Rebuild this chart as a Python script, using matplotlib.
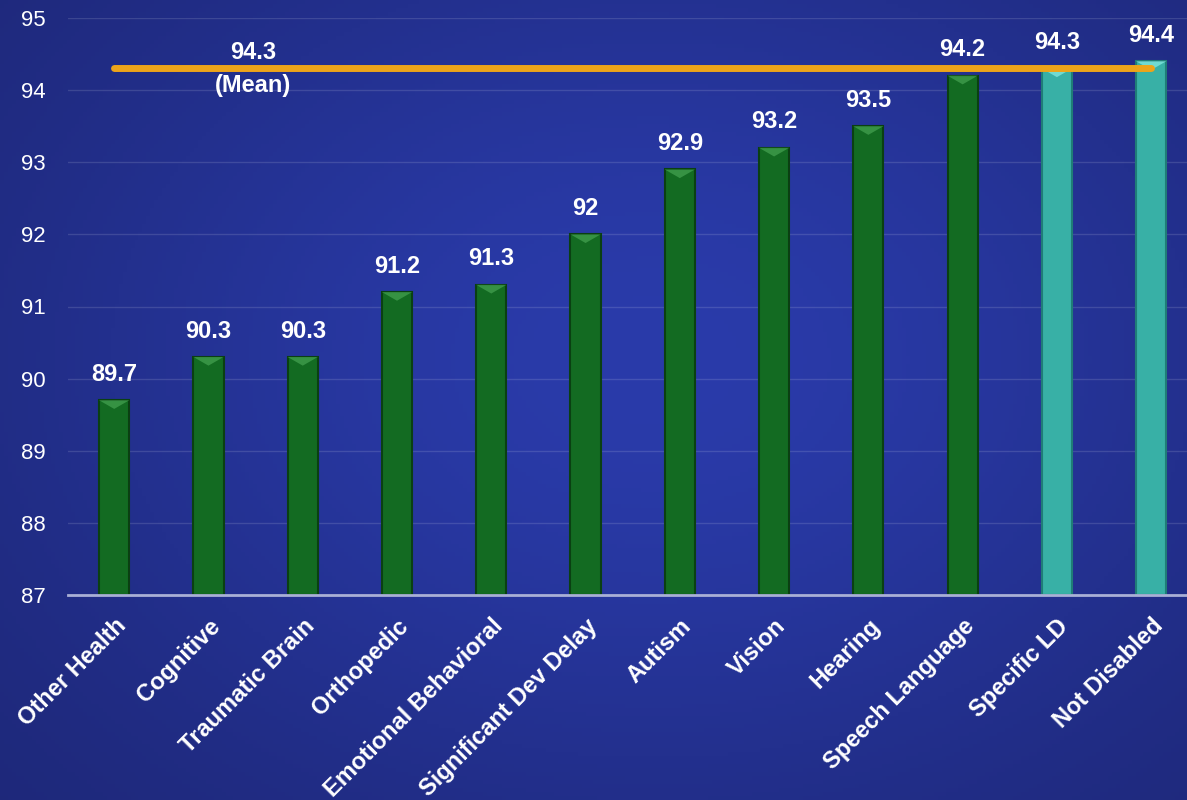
import numpy as np
import matplotlib.pyplot as plt
from matplotlib.patches import Polygon

categories = ['Other Health', 'Cognitive', 'Traumatic Brain', 'Orthopedic',
              'Emotional Behavioral', 'Significant Dev Delay', 'Autism', 'Vision',
              'Hearing', 'Speech Language', 'Specific LD', 'Not Disabled']
scores = [89.7, 90.3, 90.3, 91.2, 91.3, 92.0, 92.9, 93.2, 93.5, 94.2, 94.3, 94.4]
score_labels = ['89.7', '90.3', '90.3', '91.2', '91.3', '92', '92.9', '93.2',
                '93.5', '94.2', '94.3', '94.4']
highlight = ['Specific LD', 'Not Disabled']
mean_score = 94.3
y_ticks = [87, 88, 89, 90, 91, 92, 93, 94, 95]

plt.rcParams['font.family'] = ['Liberation Sans', 'DejaVu Sans']

fig = plt.figure(figsize=(11.87, 8), dpi=100)

# soft blue gradient behind everything
bg = fig.add_axes([0, 0, 1, 1], zorder=-10)
gx, gy = np.meshgrid(np.linspace(0, 1, 300), np.linspace(0, 1, 200))
glow = np.exp(-(((gx - 0.55) / 0.55) ** 2 + ((gy - 0.55) / 0.6) ** 2))
c_dark = np.array([0x1c, 0x25, 0x72]) / 255
c_light = np.array([0x2a, 0x3b, 0xaa]) / 255
img = c_dark + (c_light - c_dark) * glow[..., None]
bg.imshow(img, aspect='auto', extent=[0, 1, 0, 1], origin='lower')
bg.axis('off')

ax = fig.add_axes([68 / 1187, 205 / 800, 1 - 68 / 1187, 577 / 800])
ax.set_facecolor('none')

x = np.arange(len(categories))
width = 0.32
bottom = 87
for i, (cat, val) in enumerate(zip(categories, scores)):
    if cat in highlight:
        body, edge, cap = '#38b0a6', '#1f7d77', '#7fe6de'
    else:
        body, edge, cap = '#136b22', '#0a4012', '#3f9c4c'
    ax.bar(x[i], val - bottom, width, bottom=bottom, color=body,
           edgecolor=edge, linewidth=1.5, zorder=3)
    # bevelled top
    depth = 0.12
    half = width / 2
    tri = Polygon([[x[i] - half, val], [x[i] + half, val], [x[i], val - depth]],
                  closed=True, facecolor=cap, edgecolor='none', alpha=0.8, zorder=4)
    ax.add_patch(tri)
    ax.text(x[i], val + 0.2, score_labels[i], ha='center', va='bottom',
            color='white', fontsize=17, fontweight='bold', zorder=6)

# mean line across the categories
ax.plot([x[0], x[-1]], [mean_score, mean_score], color='#eda41a', linewidth=5,
        solid_capstyle='round', zorder=5)
ax.text(1.47, mean_score + 0.06, f'{mean_score}', ha='center', va='bottom',
        color='white', fontsize=17, fontweight='bold', zorder=6)
ax.text(1.47, mean_score - 0.08, '(Mean)', ha='center', va='top',
        color='white', fontsize=17, fontweight='bold', zorder=6)

ax.set_ylim(87, 95)
ax.set_xlim(-0.49, 11.38)
ax.set_yticks(y_ticks)
ax.set_yticklabels([str(t) for t in y_ticks], color='white', fontsize=16)
ax.set_xticks(x)
ax.set_xticklabels(categories, rotation=45, ha='right', rotation_mode='anchor',
                   color='white', fontsize=17, fontweight='bold')
ax.tick_params(axis='both', length=0)
ax.tick_params(axis='y', pad=16)
ax.tick_params(axis='x', pad=14)

ax.grid(axis='y', color='white', alpha=0.13, linewidth=1, zorder=0)
ax.set_axisbelow(True)
for side in ['top', 'right', 'left']:
    ax.spines[side].set_visible(False)
ax.spines['bottom'].set_color('#a9b0d6')
ax.spines['bottom'].set_linewidth(2)
ax.spines['bottom'].set_zorder(5)

fig.savefig('out.png', dpi=100)
